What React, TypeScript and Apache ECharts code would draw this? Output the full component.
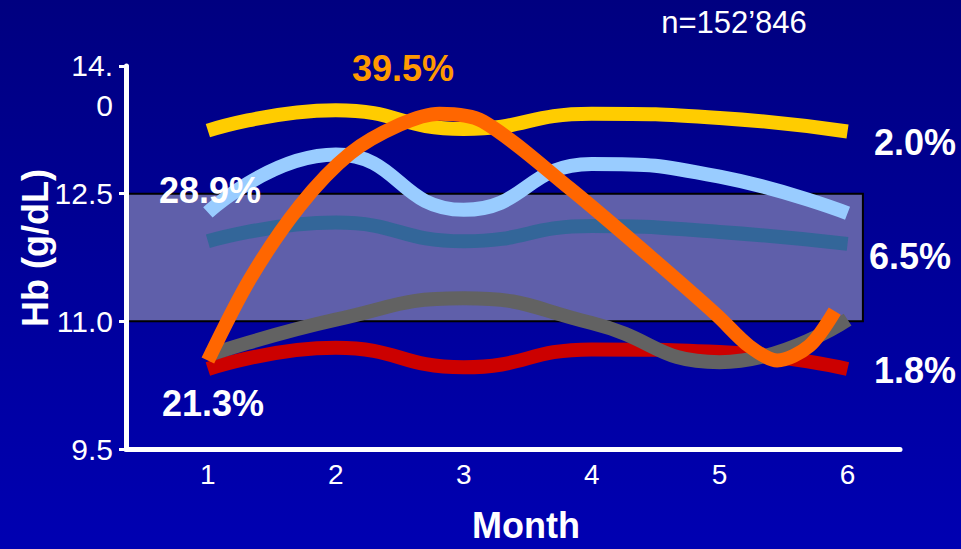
import React, { useEffect, useRef } from "react";
import * as echarts from "echarts";

// ---- data ----
const MONTHS = [1, 2, 3, 4, 5, 6];
const Y_TICKS = [9.5, 11.0, 12.5];
const Y_TOP_TICK = 14.0;
const Y_MIN = 9.5;
const Y_MAX = 14.0;
const X_MIN = 0.36;
const X_MAX = 6.41;

const YELLOW = [13.24, 13.48, 13.26, 13.44, 13.39, 13.23];
const LIGHT_BLUE = [12.28, 12.96, 12.31, 12.85, 12.7, 12.27];
const STEEL_BLUE = [11.94, 12.16, 11.94, 12.12, 12.05, 11.91];
const GRAY = [10.6, 11.02, 11.27, 10.98, 10.52, 11.02];
const RED = [10.44, 10.69, 10.46, 10.67, 10.64, 10.44];
// orange curve at more points (it is not a simple 6-point curve)
const ORANGE_X = [1, 1.33, 1.72, 2.11, 2.5, 2.81, 3.15, 3.83, 4.45, 4.98, 5.23, 5.45, 5.7, 5.9];
const ORANGE_Y = [10.54, 11.5, 12.36, 12.97, 13.31, 13.44, 13.35, 12.56, 11.77, 11.07, 10.71, 10.54, 10.71, 11.12];

const TARGET_BAND = [11.0, 12.5];
const BAND_END_X = 6.12;

const PCT_LABELS = ["39.5%", "28.9%", "21.3%", "2.0%", "6.5%", "1.8%"];
const N_LABEL = "n=152\u2019846";
const X_TITLE = "Month";
const Y_TITLE = "Hb (g/dL)";

const FONT = '"Liberation Sans", Arial, Helvetica, sans-serif';

export default function App() {
  const ref = useRef<HTMLDivElement>(null);

  useEffect(() => {
    if (!ref.current) return;
    const chart = echarts.init(ref.current, null, { renderer: "svg" });

    const pairs = (ys: number[]) => MONTHS.map((m, i) => [m, ys[i]]);
    const lineSeries = (
      name: string,
      data: number[][],
      color: string,
      smooth = 0.5
    ) => ({
      name,
      type: "line",
      data,
      smooth,
      showSymbol: false,
      symbol: "none",
      lineStyle: { color, width: 14, cap: "butt", join: "round" },
      silent: true,
    });

    const pctPos = [
      { x: 403, y: 68, color: "#FF9900" },
      { x: 210, y: 190, color: "#FFFFFF" },
      { x: 213, y: 403, color: "#FFFFFF" },
      { x: 915, y: 142, color: "#FFFFFF" },
      { x: 910, y: 256, color: "#FFFFFF" },
      { x: 915, y: 370, color: "#FFFFFF" },
    ];

    const graphics: any[] = PCT_LABELS.map((t, i) => ({
      type: "text",
      x: pctPos[i].x,
      y: pctPos[i].y,
      z: 100,
      style: {
        text: t,
        fill: pctPos[i].color,
        fontSize: 36,
        fontWeight: "bold",
        fontFamily: FONT,
        align: "center",
        verticalAlign: "middle",
      },
    }));
    graphics.push(
      {
        type: "text",
        x: 734,
        y: 22,
        z: 100,
        style: {
          text: N_LABEL,
          fill: "#FFFFFF",
          fontSize: 31,
          fontFamily: FONT,
          align: "center",
          verticalAlign: "middle",
        },
      },
      {
        type: "text",
        x: 526,
        y: 525,
        z: 100,
        style: {
          text: X_TITLE,
          fill: "#FFFFFF",
          fontSize: 36,
          fontWeight: "bold",
          fontFamily: FONT,
          align: "center",
          verticalAlign: "middle",
        },
      },
      {
        type: "text",
        x: 35,
        y: 248,
        rotation: Math.PI / 2,
        z: 100,
        style: {
          text: Y_TITLE,
          fill: "#FFFFFF",
          fontSize: 36,
          fontWeight: "bold",
          fontFamily: FONT,
          align: "center",
          verticalAlign: "middle",
        },
      }
    );

    const option: any = {
      animation: false,
      backgroundColor: "transparent",
      textStyle: { fontFamily: FONT },
      grid: { left: 126, right: 61, top: 66, bottom: 100, containLabel: false },
      xAxis: {
        type: "value",
        min: X_MIN,
        max: X_MAX,
        z: 10,
        axisLine: { show: true, lineStyle: { color: "#FFFFFF", width: 5 } },
        axisTick: { show: false },
        splitLine: { show: false },
        axisLabel: {
          customValues: MONTHS,
          color: "#FFFFFF",
          fontSize: 28,
          fontFamily: FONT,
          margin: 11,
          formatter: (v: number) => String(v),
        },
      },
      yAxis: [
        {
          type: "value",
          min: Y_MIN,
          max: Y_MAX,
          z: 10,
          axisLine: { show: true, lineStyle: { color: "#FFFFFF", width: 5 } },
          axisTick: {
            show: true,
            customValues: [...Y_TICKS, Y_TOP_TICK],
            length: 7,
            lineStyle: { color: "#FFFFFF", width: 3 },
          },
          splitLine: { show: false },
          axisLabel: {
            customValues: Y_TICKS,
            color: "#FFFFFF",
            fontSize: 30,
            fontFamily: FONT,
            margin: 13,
            formatter: (v: number) => v.toFixed(1),
          },
        },
        {
          type: "value",
          min: Y_MIN,
          max: Y_MAX,
          position: "left",
          z: 10,
          axisLine: { show: false },
          axisTick: { show: false },
          splitLine: { show: false },
          axisLabel: {
            customValues: [Y_TOP_TICK],
            color: "#FFFFFF",
            fontSize: 30,
            fontFamily: FONT,
            margin: 13,
            align: "right",
            formatter: (v: number) => {
              const s = v.toFixed(1);
              return (
                "{p| }\n{a|" +
                s.slice(0, s.length - 1) +
                "}\n{a|" +
                s.slice(s.length - 1) +
                "}"
              );
            },
            rich: {
              p: { height: 38, lineHeight: 38, fontSize: 10 },
              a: {
                fontSize: 30,
                lineHeight: 40,
                color: "#FFFFFF",
                fontFamily: FONT,
              },
            },
          },
        },
      ],
      graphic: graphics,
      series: [
        {
          name: "band",
          type: "line",
          data: [],
          silent: true,
          markArea: {
            silent: true,
            itemStyle: {
              color: "#5F5FAA",
              borderColor: "#000000",
              borderWidth: 2,
            },
            data: [
              [
                { coord: [X_MIN, TARGET_BAND[0]] },
                { coord: [BAND_END_X, TARGET_BAND[1]] },
              ],
            ],
          },
        },
        lineSeries("red", pairs(RED), "#CC0000"),
        lineSeries("gray", pairs(GRAY), "#626262"),
        lineSeries("steel", pairs(STEEL_BLUE), "#336699"),
        lineSeries("lightblue", pairs(LIGHT_BLUE), "#99CCFF"),
        lineSeries("yellow", pairs(YELLOW), "#FFCC00"),
        lineSeries(
          "orange",
          ORANGE_X.map((x, i) => [x, ORANGE_Y[i]]),
          "#FF6600",
          0.3
        ),
      ],
    };

    chart.setOption(option);
    return () => chart.dispose();
  }, []);

  return (
    <div
      style={{
        position: "fixed",
        left: 0,
        top: 0,
        width: 961,
        height: 549,
        background: "linear-gradient(to bottom, #000080 0%, #0000B2 100%)",
      }}
    >
      <div ref={ref} style={{ width: 961, height: 549 }} />
    </div>
  );
}
